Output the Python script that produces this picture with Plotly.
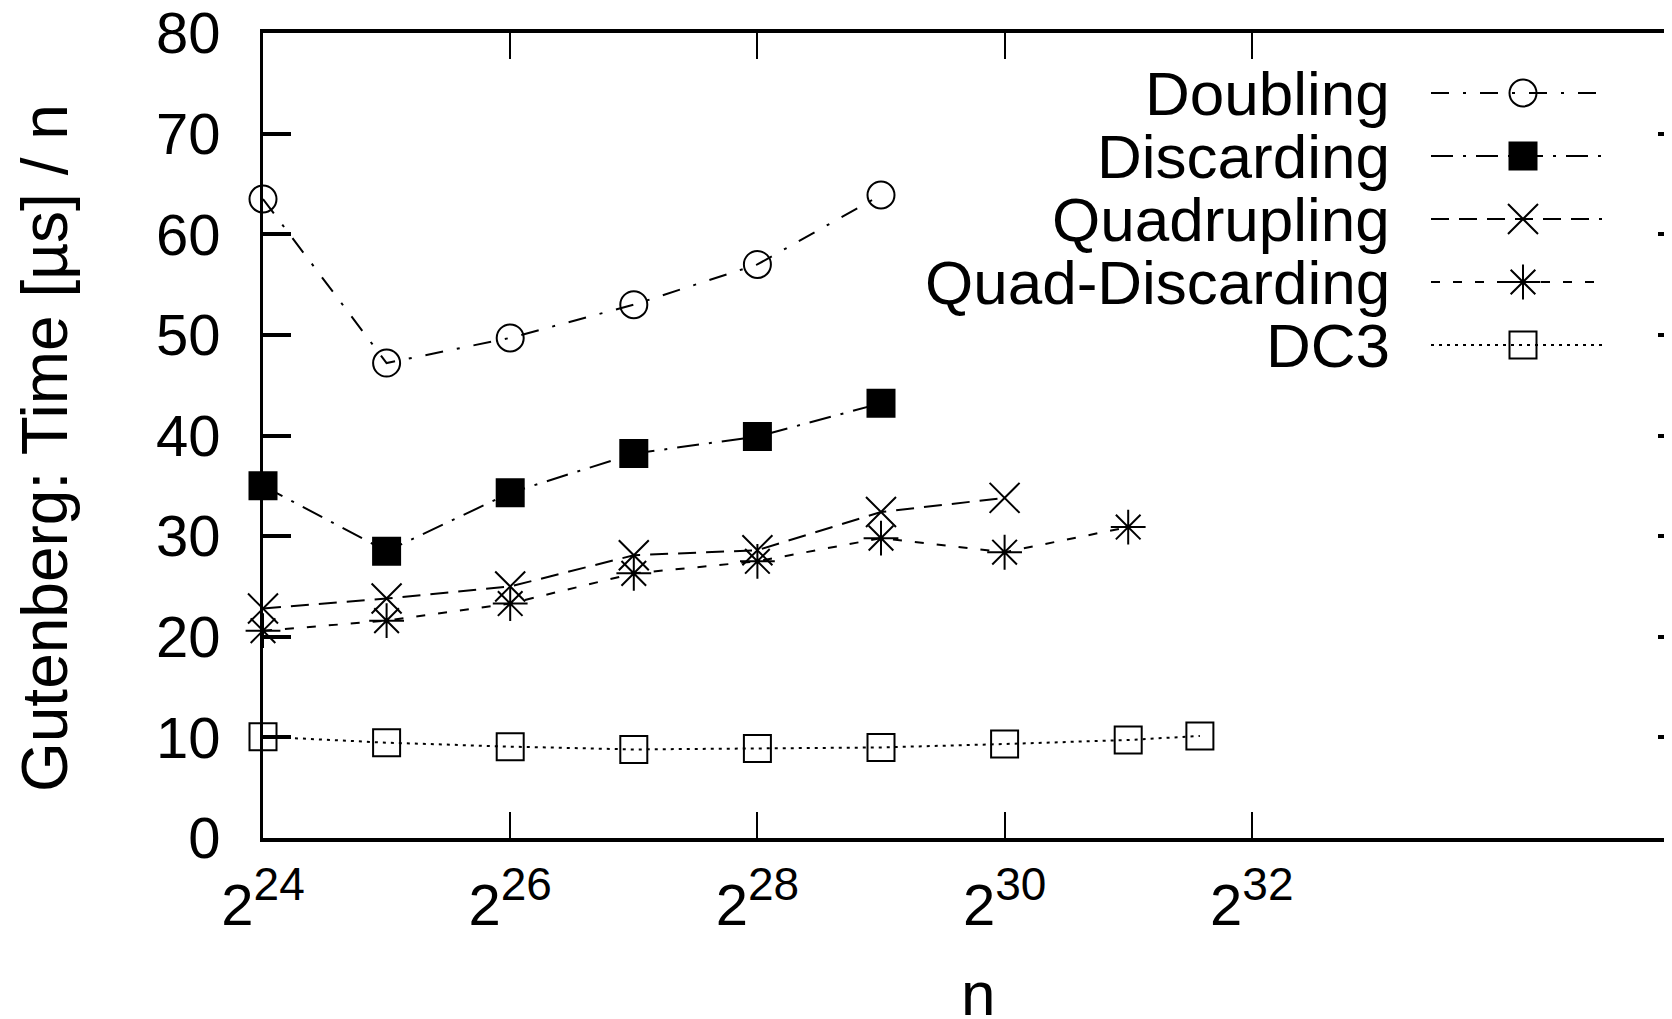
import plotly.graph_objects as go

# ---------------- data ----------------
exp_doubling = [24, 25, 26, 27, 28, 29]
doubling = [63.5, 47.2, 49.7, 53.0, 57.0, 63.9]

exp_discarding = [24, 25, 26, 27, 28, 29]
discarding = [35.0, 28.5, 34.3, 38.2, 39.9, 43.2]

exp_quadrupling = [24, 25, 26, 27, 28, 29, 30]
quadrupling = [22.8, 23.8, 25.0, 28.1, 28.6, 32.4, 33.8]

exp_quaddisc = [24, 25, 26, 27, 28, 29, 30, 31]
quaddisc = [20.6, 21.6, 23.3, 26.3, 27.5, 29.8, 28.4, 30.9]

exp_dc3 = [24, 25, 26, 27, 28, 29, 30, 31, 31.58]
dc3 = [10.07, 9.47, 9.08, 8.8, 8.9, 9.0, 9.34, 9.74, 10.14]

x_tick_exps = [24, 26, 28, 30, 32]
x_tick_labels = ["2<sup><span style='font-size:46px'>%d</span></sup>" % e
                 for e in x_tick_exps]
y_ticks = [0, 10, 20, 30, 40, 50, 60, 70, 80]

series_names = ["Doubling", "Discarding", "Quadrupling", "Quad-Discarding", "DC3"]
y_title = "Gutenberg: Time [µs] / n"
x_title = "n"

# ---------------- styles / layout constants ----------------
FONT = "Liberation Sans, Arial, Helvetica, sans-serif"
BODY = 8  # default page margin of the html body
ML, MT, MB, MR = 263 - BODY, 33 - BODY, 181, 10
H = 1019 - BODY
PLOT_RIGHT = 1686 - BODY          # right frame lies just past the window edge
W = PLOT_RIGHT + MR
PLOT_BOTTOM = H - MB
PX_PER_EXP = 123.6
X_MAX = 24 + (PLOT_RIGHT - ML) / PX_PER_EXP


def paper_x(px):
    return (px - BODY - ML) / (PLOT_RIGHT - ML)


def paper_y(py):
    return (PLOT_BOTTOM - (py - BODY)) / (PLOT_BOTTOM - MT)


styles = [
    dict(dash="18px,14px,3px,14px", symbol="circle-open", size=27, mcolor="black"),
    dict(dash="22px,10px,3px,10px", symbol="square", size=27, mcolor="black"),
    dict(dash="18px,10px", symbol="x-thin-open", size=30, mcolor="black"),
    dict(dash="9px,13px", symbol="asterisk-open", size=29, mcolor="black"),
    dict(dash="3px,5px", symbol="square-open", size=27, mcolor="black"),
]

xs = [exp_doubling, exp_discarding, exp_quadrupling, exp_quaddisc, exp_dc3]
ys = [doubling, discarding, quadrupling, quaddisc, dc3]

fig = go.Figure()

for name, x, y, st in zip(series_names, xs, ys, styles):
    fig.add_trace(go.Scatter(
        x=x, y=y, name=name, mode="lines+markers",
        line=dict(color="black", width=2, dash=st["dash"]),
        marker=dict(symbol=st["symbol"], size=st["size"], color=st["mcolor"],
                    line=dict(color="black", width=2)),
        showlegend=False, cliponaxis=False,
    ))

# ---------------- custom legend (text left, sample right) ----------------
# positions in figure pixels (overlay axes x3/y3 are mapped to pixels)
LEG_TEXT_X = 1392 - BODY
LEG_LINE_X0, LEG_LINE_X1 = 1431 - BODY, 1602 - BODY
LEG_MARK_X = 1523 - BODY
LEG_Y0, LEG_DY = 93 - BODY, 63

for i, (name, st) in enumerate(zip(series_names, styles)):
    yy = LEG_Y0 + i * LEG_DY
    fig.add_trace(go.Scatter(
        x=[LEG_LINE_X0, LEG_LINE_X1], y=[yy, yy], mode="lines",
        line=dict(color="black", width=2, dash=st["dash"]),
        xaxis="x3", yaxis="y3", showlegend=False, hoverinfo="skip"))
    fig.add_trace(go.Scatter(
        x=[LEG_MARK_X], y=[yy], mode="markers",
        marker=dict(symbol=st["symbol"], size=st["size"], color=st["mcolor"],
                    line=dict(color="black", width=2)),
        xaxis="x3", yaxis="y3", showlegend=False, hoverinfo="skip"))
    fig.add_annotation(x=LEG_TEXT_X, y=yy, xref="x3", yref="y3", text=name,
                       showarrow=False, xanchor="right", yanchor="middle",
                       font=dict(size=62, color="black", family=FONT))

# axis titles (placed as in the reference; screen pixel positions)
fig.add_annotation(x=paper_x(45), y=paper_y(448), xref="paper", yref="paper",
                   text=y_title, textangle=-90, showarrow=False,
                   xanchor="center", yanchor="middle",
                   font=dict(size=64, color="black", family=FONT))
fig.add_annotation(x=paper_x(978), y=paper_y(993), xref="paper", yref="paper",
                   text=x_title, showarrow=False,
                   xanchor="center", yanchor="middle",
                   font=dict(size=62, color="black", family=FONT))

fig.update_layout(
    template="none",
    width=W, height=H,
    margin=dict(l=ML, r=MR, t=MT, b=MB, pad=0, autoexpand=False),
    paper_bgcolor="white", plot_bgcolor="white",
    font=dict(family=FONT, color="black", size=58),
    showlegend=False,
    xaxis=dict(
        range=[24, X_MAX], tickvals=x_tick_exps, ticktext=x_tick_labels,
        ticks="inside", ticklen=26, tickwidth=2, tickcolor="black",
        showline=True, linewidth=4, linecolor="black", mirror="ticks",
        showgrid=False, zeroline=False, automargin=False,
        ticklabeloverflow="allow",
        tickfont=dict(size=58), ticklabelstandoff=13,
    ),
    yaxis=dict(
        range=[0, 80], tickvals=y_ticks,
        ticks="inside", ticklen=28, tickwidth=4, tickcolor="black",
        showline=True, linewidth=3, linecolor="black", mirror="ticks",
        showgrid=False, zeroline=False, automargin=False,
        ticklabeloverflow="allow",
        tickfont=dict(size=58), ticklabelstandoff=28,
    ),
    xaxis3=dict(range=[ML, PLOT_RIGHT], overlaying="x", anchor="y3", visible=False,
                automargin=False),
    yaxis3=dict(range=[PLOT_BOTTOM, MT], overlaying="y", anchor="x3", visible=False,
                automargin=False),
)

fig.write_html("out.html")
